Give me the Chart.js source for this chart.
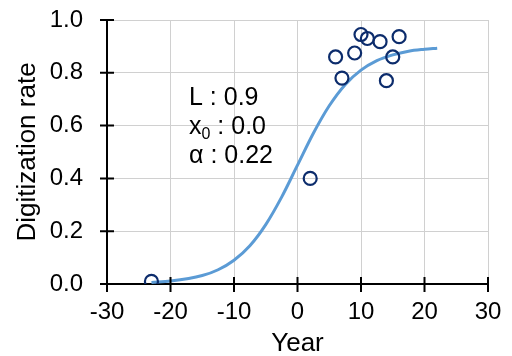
<!DOCTYPE html>
<html>
<head>
<meta charset="utf-8">
<script src="https://cdn.jsdelivr.net/npm/chart.js@4"></script>
<style>
  html, body { margin: 0; padding: 0; background: #fff; }
  #wrap { width: 512px; height: 356px; }
</style>
</head>
<body>
<div id="wrap"><canvas id="chartFit" width="512" height="356"></canvas></div>
<script>
// observed data (year, digitization rate)
const obsYear = [-23, 2, 6, 7, 9, 10, 11, 13, 14, 15, 16];
const obsRate = [0.01, 0.40, 0.86, 0.78, 0.875, 0.945, 0.93, 0.918, 0.77, 0.86, 0.937];

// fitted curve
const fitYear = [-23, -20, -15, -12.5, -10, -7.5, -5, -2.5, 0, 2.5, 5, 7.5, 10, 12.5, 15, 17.5, 20, 22];
const fitRate = [0.006, 0.011, 0.032, 0.054, 0.09, 0.145, 0.225, 0.329, 0.45, 0.571, 0.675, 0.755, 0.81, 0.846, 0.868, 0.882, 0.889, 0.893];

const xTicks = [-30, -20, -10, 0, 10, 20, 30];
const yTicks = [0, 0.2, 0.4, 0.6, 0.8, 1.0];

const fitText = ['L : 0.9', 'x|0| : 0.0', 'α : 0.22'];

const FONT = 'Liberation Sans, Arial, sans-serif';

// ticks that cross the axis lines + the parameter text
const extras = {
  id: 'extras',
  afterDraw(chart) {
    const c = chart.ctx;
    const xs = chart.scales.x, ys = chart.scales.y;
    const ax = xs.getPixelForValue(-30);
    const ay = ys.getPixelForValue(0);
    c.save();
    c.strokeStyle = '#000';
    c.lineWidth = 2;
    c.beginPath();
    yTicks.forEach(v => {
      const p = ys.getPixelForValue(v);
      c.moveTo(ax - 7, p); c.lineTo(ax + 7, p);
    });
    xTicks.forEach(v => {
      const p = xs.getPixelForValue(v);
      c.moveTo(p, ay - 7); c.lineTo(p, ay + 8);
    });
    c.stroke();

    c.fillStyle = '#000';
    c.textBaseline = 'alphabetic';
    let y = 105;
    fitText.forEach(t => {
      let x = 189;
      const parts = t.split('|');
      c.font = '25px ' + FONT;
      c.fillText(parts[0], x, y);
      x += c.measureText(parts[0]).width;
      if (parts.length > 1) {
        c.font = '16px ' + FONT;
        c.fillText(parts[1], x, y + 5);
        x += c.measureText(parts[1]).width;
        c.font = '25px ' + FONT;
        c.fillText(parts[2], x, y);
      }
      y += 29;
    });
    c.restore();
  }
};

new Chart(document.getElementById('chartFit'), {
  type: 'scatter',
  data: {
    datasets: [{
      label: 'Observed',
      data: obsYear.map((x, i) => ({ x: x, y: obsRate[i] })),
      pointRadius: 6.5,
      pointHoverRadius: 6.5,
      pointBorderWidth: 2.2,
      pointBorderColor: '#0c2c6c',
      pointBackgroundColor: 'rgba(255,255,255,0)',
      showLine: false
    }, {
      label: 'Fit',
      data: fitYear.map((x, i) => ({ x: x, y: fitRate[i] })),
      showLine: true,
      borderColor: '#5b9bd5',
      borderWidth: 3,
      pointRadius: 0,
      cubicInterpolationMode: 'monotone',
      fill: false
    }]
  },
  options: {
    responsive: false,
    animation: false,
    layout: { padding: { top: 20, right: 24, left: 0, bottom: 0 } },
    plugins: {
      legend: { display: false },
      tooltip: { enabled: false }
    },
    scales: {
      x: {
        type: 'linear',
        min: -30, max: 30,
        afterBuildTicks: s => { s.ticks = xTicks.map(v => ({ value: v })); },
        afterFit: s => { s.height = 72; s.paddingLeft = 0; s.paddingRight = 0; },
        grid: { color: '#d0d0d0', lineWidth: 1, drawTicks: false },
        border: { color: '#000', width: 2 },
        ticks: { color: '#000', font: { family: FONT, size: 24 }, padding: 14, maxRotation: 0 },
        title: { display: true, text: 'Year', color: '#000', font: { family: FONT, size: 26 }, padding: { top: 0, bottom: -3 } }
      },
      y: {
        min: 0, max: 1,
        afterBuildTicks: s => { s.ticks = yTicks.map(v => ({ value: v })); },
        afterFit: s => { s.width = 107; s.paddingTop = 0; s.paddingBottom = 0; },
        grid: { color: '#d0d0d0', lineWidth: 1, drawTicks: false },
        border: { color: '#000', width: 2 },
        ticks: { color: '#000', font: { family: FONT, size: 24 }, padding: 24, callback: v => v.toFixed(1) },
        title: { display: true, text: 'Digitization rate', color: '#000', font: { family: FONT, size: 26 }, padding: { top: 12, bottom: 0 } }
      }
    }
  },
  plugins: [extras]
});
</script>
</body>
</html>
